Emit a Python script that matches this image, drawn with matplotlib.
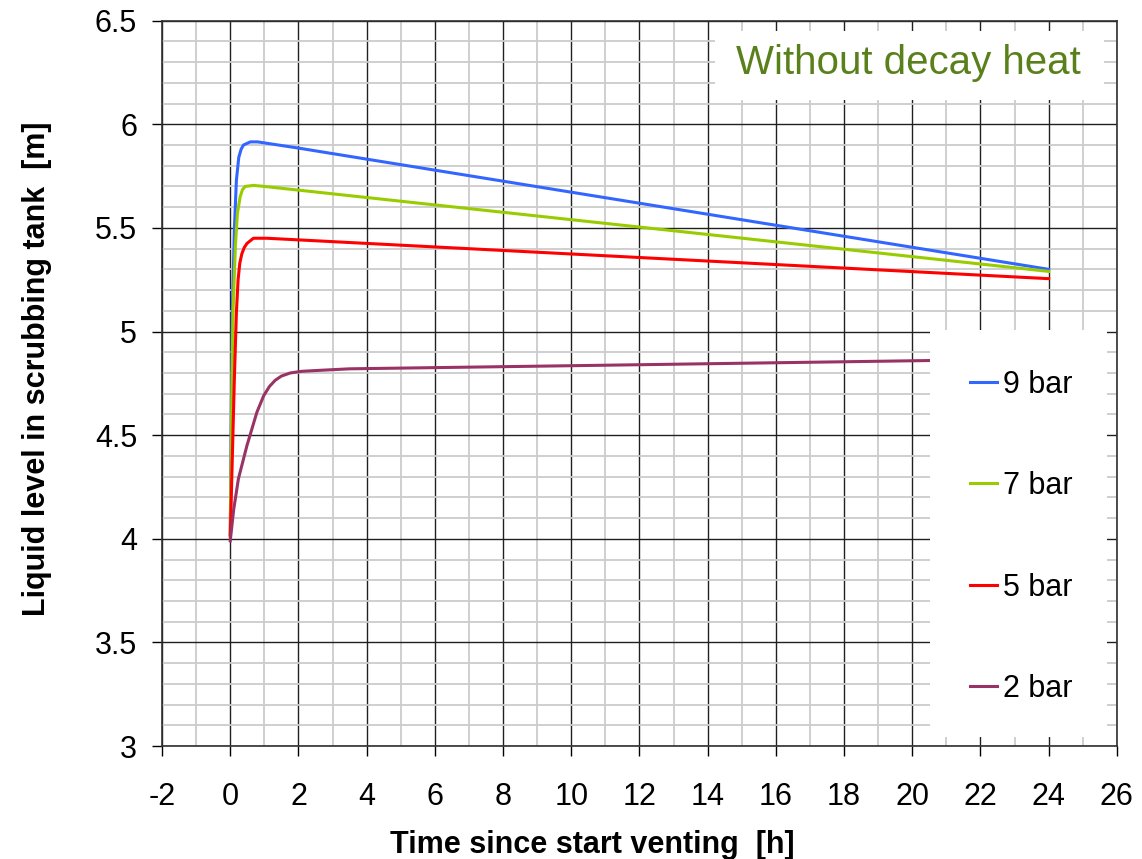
import matplotlib.pyplot as plt
from matplotlib.patches import Rectangle
from matplotlib.ticker import MultipleLocator

plt.rcParams["font.family"] = ["Liberation Sans", "DejaVu Sans"]
plt.rcParams["axes.unicode_minus"] = False

# values
t_9 = [0.0, 0.03, 0.06, 0.12, 0.18, 0.25, 0.32, 0.39, 0.59, 0.8, 1.0, 2.0, 3.5, 24.0]
lvl_9 = [4.02, 4.6, 5.09, 5.49, 5.73, 5.84, 5.88, 5.90, 5.915, 5.915, 5.91, 5.885, 5.845, 5.30]

t_7 = [0.0, 0.04, 0.08, 0.15, 0.21, 0.29, 0.36, 0.44, 0.68, 1.0, 24.0]
lvl_7 = [4.02, 4.6, 5.09, 5.41, 5.57, 5.65, 5.685, 5.70, 5.705, 5.70, 5.29]

t_5 = [0.0, 0.07, 0.12, 0.18, 0.23, 0.28, 0.34, 0.41, 0.49, 0.68, 1.07, 24.0]
lvl_5 = [4.01, 4.45, 4.77, 5.09, 5.25, 5.33, 5.375, 5.405, 5.425, 5.45, 5.45, 5.255]

t_2 = [0.0, 0.1, 0.24, 0.49, 0.78, 0.98, 1.15, 1.32, 1.5, 1.76, 2.1, 2.54, 3.5, 10.0, 20.5, 24.0]
lvl_2 = [3.99, 4.14, 4.29, 4.45, 4.61, 4.69, 4.735, 4.765, 4.785, 4.80, 4.808, 4.812, 4.82, 4.835, 4.86, 4.865]

series = [
    ("9 bar", t_9, lvl_9, "#3366ff"),
    ("7 bar", t_7, lvl_7, "#99cc00"),
    ("5 bar", t_5, lvl_5, "#ff0000"),
    ("2 bar", t_2, lvl_2, "#993366"),
]

fig = plt.figure(figsize=(11.42, 8.59), dpi=100)
ax = fig.add_axes([0.1419, 0.1315, 0.8361, 0.8445])

for label, t, lvl, col in series:
    ax.plot(t, lvl, color=col, lw=2.2, label=label, zorder=3)

ax.set_xlim(-2, 26)
ax.set_ylim(3, 6.5)
ax.xaxis.set_major_locator(MultipleLocator(2))
ax.xaxis.set_minor_locator(MultipleLocator(1))
ax.yaxis.set_major_locator(MultipleLocator(0.5))
ax.yaxis.set_minor_locator(MultipleLocator(0.1))
ax.set_yticks([3, 3.5, 4, 4.5, 5, 5.5, 6, 6.5])
ax.set_yticklabels(["3", "3.5", "4", "4.5", "5", "5.5", "6", "6.5"])

ax.grid(which="minor", color="#cccccc", lw=1.3, zorder=0)
ax.grid(which="major", color="#202020", lw=1.0, zorder=1)
ax.set_axisbelow(True)
ax.tick_params(which="minor", length=0)
ax.tick_params(axis="x", which="major", length=7, width=1, pad=19, labelsize=22)
ax.tick_params(axis="y", which="major", length=7, width=1, pad=11, labelsize=22)
for s in ax.spines.values():
    s.set_color("#303030")
    s.set_linewidth(1.2)

ax.set_xlabel("Time since start venting  [h]", fontsize=22, fontweight="bold")
ax.set_ylabel("Liquid level in scrubbing tank  [m]", fontsize=22, fontweight="bold")
ax.xaxis.set_label_coords(0.451, -0.116)
ax.yaxis.set_label_coords(-0.115, 0.52)

# title box
ax.add_patch(Rectangle((0.579, 0.89), 0.408, 0.096, transform=ax.transAxes,
                       facecolor="white", edgecolor="none", zorder=4))
ax.text(0.782, 0.941, "Without decay heat", transform=ax.transAxes, ha="center",
        va="center", fontsize=29, color="#5a801c", zorder=5)

# legend box
ax.add_patch(Rectangle((0.804, 0.012), 0.186, 0.561, transform=ax.transAxes,
                       facecolor="white", edgecolor="none", zorder=4))
leg = ax.legend(loc="upper left", bbox_to_anchor=(0.846, 0.519), frameon=False,
                fontsize=22, handlelength=0.88, handletextpad=0.2,
                labelspacing=2.34, borderpad=0, borderaxespad=0)
leg.set_zorder(6)

fig.savefig("out.png", dpi=100)
